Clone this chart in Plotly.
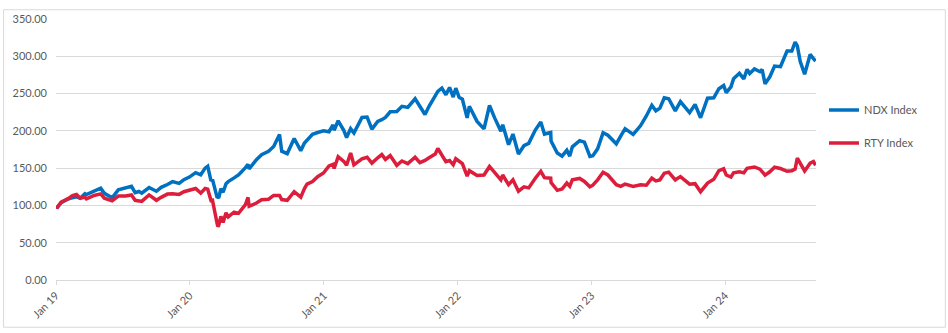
import plotly.graph_objects as go

dates = [
    "2019-01-02", "2019-01-03", "2019-01-15", "2019-02-01", "2019-02-15", "2019-02-26",
    "2019-03-08", "2019-03-21", "2019-03-25", "2019-04-15", "2019-05-03", "2019-05-13",
    "2019-06-03", "2019-06-20", "2019-07-10", "2019-07-26", "2019-08-05", "2019-08-15",
    "2019-08-23", "2019-09-12", "2019-10-02", "2019-10-15", "2019-11-01", "2019-11-15",
    "2019-12-03", "2019-12-16", "2019-12-31", "2020-01-17", "2020-01-31", "2020-02-12",
    "2020-02-19", "2020-02-28", "2020-03-03", "2020-03-12", "2020-03-16", "2020-03-18",
    "2020-03-20", "2020-03-26", "2020-04-01", "2020-04-09", "2020-04-15", "2020-05-01",
    "2020-05-13", "2020-06-01", "2020-06-08", "2020-06-11", "2020-07-01", "2020-07-15",
    "2020-08-03", "2020-08-17", "2020-09-02", "2020-09-08", "2020-09-23", "2020-10-12",
    "2020-10-30", "2020-11-09", "2020-11-16", "2020-12-01", "2020-12-15", "2020-12-31",
    "2021-01-15", "2021-01-26", "2021-01-29", "2021-02-09", "2021-02-25", "2021-03-04",
    "2021-03-15", "2021-03-24", "2021-04-15", "2021-04-29", "2021-05-12", "2021-05-28",
    "2021-06-08", "2021-06-18", "2021-07-01", "2021-07-19", "2021-08-02", "2021-08-18",
    "2021-09-07", "2021-09-20", "2021-10-04", "2021-10-15", "2021-11-01", "2021-11-08",
    "2021-11-19", "2021-11-30", "2021-12-10", "2021-12-20", "2021-12-27", "2022-01-05",
    "2022-01-14", "2022-01-27", "2022-02-02", "2022-02-23", "2022-03-14", "2022-03-29",
    "2022-04-12", "2022-04-29", "2022-05-04", "2022-05-20", "2022-06-01", "2022-06-16",
    "2022-07-01", "2022-07-14", "2022-08-01", "2022-08-16", "2022-08-26", "2022-09-12",
    "2022-09-13", "2022-09-30", "2022-10-13", "2022-10-26", "2022-11-03", "2022-11-10",
    "2022-11-30", "2022-12-13", "2022-12-28", "2023-01-05", "2023-01-18", "2023-02-02",
    "2023-02-15", "2023-03-10", "2023-03-22", "2023-04-03", "2023-04-25", "2023-05-15",
    "2023-05-31", "2023-06-15", "2023-06-26", "2023-07-07", "2023-07-19", "2023-07-31",
    "2023-08-18", "2023-09-01", "2023-09-26", "2023-10-11", "2023-10-26", "2023-11-14",
    "2023-12-01", "2023-12-15", "2023-12-28", "2024-01-04", "2024-01-17", "2024-01-24",
    "2024-02-09", "2024-02-21", "2024-03-01", "2024-03-08", "2024-03-21", "2024-04-05",
    "2024-04-11", "2024-04-19", "2024-05-02", "2024-05-15", "2024-05-31", "2024-06-18",
    "2024-07-01", "2024-07-10", "2024-07-16", "2024-07-24", "2024-08-05", "2024-08-20",
    "2024-08-29", "2024-09-04",
]

ndx_index = [
    100.0, 96.5, 103.6, 108.3, 110.4, 111.5,
    109.6, 115.7, 114.5, 119.3, 123.2, 116.2,
    110.3, 120.9, 124.0, 125.6, 117.1, 118.7,
    116.5, 124.0, 119.0, 124.3, 128.1, 131.9,
    129.5, 134.5, 138.0, 144.0, 141.1, 150.0,
    152.6, 132.8, 135.0, 117.4, 110.2, 111.5,
    109.8, 122.4, 117.6, 129.0, 131.9, 136.9,
    141.0, 150.7, 155.0, 149.0, 161.4, 168.0,
    172.7, 179.0, 195.0, 172.7, 169.5, 189.8,
    173.5, 183.7, 187.4, 195.4, 197.8, 200.0,
    198.8, 208.0, 200.8, 213.5, 200.0, 191.0,
    203.0, 197.2, 218.0, 218.6, 202.3, 212.6,
    215.0, 218.0, 225.6, 226.0, 232.9, 231.4,
    243.0, 232.9, 222.0, 232.9, 248.1, 253.0,
    257.3, 248.4, 258.2, 245.3, 257.3, 244.9,
    242.4, 217.4, 232.9, 212.7, 202.6, 234.0,
    217.4, 199.5, 208.1, 181.5, 195.7, 169.0,
    180.1, 183.2, 201.1, 212.0, 195.7, 197.8,
    186.3, 170.3, 166.0, 173.9, 166.1, 178.6,
    186.8, 184.8, 165.8, 166.7, 175.9, 197.5,
    194.1, 182.6, 192.9, 202.9, 195.2, 206.8,
    219.9, 234.3, 226.9, 230.4, 244.4, 243.1,
    226.9, 239.2, 224.4, 235.3, 217.6, 243.8,
    244.3, 256.5, 260.8, 251.2, 259.0, 270.0,
    277.2, 269.8, 282.4, 277.0, 283.0, 279.3,
    282.3, 263.0, 272.5, 286.9, 286.1, 307.1,
    307.1, 319.0, 314.0, 293.0, 276.0, 302.5,
    297.0, 293.5,
]

rty_index = [
    98.5, 96.2, 104.5, 108.4, 113.3, 114.8,
    109.7, 111.0, 108.7, 113.4, 115.5, 109.7,
    106.1, 112.6, 112.6, 114.1, 106.9, 106.1,
    105.4, 114.1, 106.9, 110.8, 115.2, 115.5,
    114.8, 118.4, 120.4, 122.7, 116.5, 122.7,
    121.8, 106.6, 106.9, 81.0, 74.9, 71.6,
    73.2, 85.2, 77.3, 90.0, 84.8, 91.0,
    89.4, 101.1, 110.8, 98.9, 103.2, 107.6,
    108.3, 113.4, 113.4, 107.9, 106.9, 118.4,
    111.2, 122.7, 128.5, 132.1, 138.6, 143.5,
    153.1, 155.2, 149.5, 165.3, 158.8, 153.8,
    170.4, 154.5, 162.5, 164.6, 156.7, 163.9,
    168.2, 161.7, 166.8, 153.8, 159.6, 156.0,
    164.6, 157.4, 160.3, 163.9, 169.0, 176.3,
    168.0, 158.8, 160.3, 154.5, 162.5, 158.8,
    156.0, 139.4, 146.6, 140.1, 140.8, 152.3,
    144.4, 134.3, 140.8, 127.8, 134.3, 119.1,
    124.9, 123.5, 136.5, 145.8, 137.2, 136.5,
    130.7, 120.2, 122.0, 130.0, 125.6, 134.3,
    136.2, 132.1, 124.9, 127.1, 134.3, 144.4,
    140.8, 127.8, 125.6, 128.5, 125.6, 127.8,
    127.1, 136.5, 132.9, 134.3, 143.0, 144.6,
    134.3, 138.6, 128.5, 129.2, 118.4, 130.0,
    135.0, 146.6, 149.1, 140.8, 138.1, 143.7,
    145.1, 143.7, 149.8, 150.2, 151.6, 148.7,
    145.8, 140.6, 145.1, 151.3, 149.5, 145.8,
    146.6, 148.7, 163.4, 157.4, 146.3, 156.7,
    158.8, 153.8,
]

series_names = ["NDX Index", "RTY Index"]
series_colors = ["#0070C0", "#DC1E3C"]
y_tick_values = [0, 50, 100, 150, 200, 250, 300, 350]
x_range = ["2019-01-01", "2024-09-05"]

W, H = 948, 333
ML, MR, MT, MB = 55, 132, 12, 53
PW = W - ML - MR
PH = H - MT - MB

fig = go.Figure()
for name, vals, col, grp in zip(series_names, [ndx_index, rty_index], series_colors, ["a", "b"]):
    fig.add_trace(go.Scatter(
        x=dates, y=vals, mode="lines", name=name, legendgroup=grp,
        line=dict(color=col, width=3.5),
    ))

def px_x(px):
    return (px - ML) / PW

def px_y(py):
    return (H - MB - py) / PH

fig.add_shape(type="rect", xref="paper", yref="paper",
              x0=px_x(2.5), x1=px_x(945.5), y0=px_y(328.5), y1=px_y(2.5),
              line=dict(color="#d9d9d9", width=1), fillcolor="rgba(0,0,0,0)", layer="below")

fig.update_layout(
    width=W, height=H,
    margin=dict(l=ML, r=MR, t=MT, b=MB, pad=0),
    paper_bgcolor="white", plot_bgcolor="white",
    font=dict(family="Lato, 'Open Sans', sans-serif", size=11, color="#595959"),
    showlegend=True,
    legend=dict(x=px_x(824), xanchor="left", y=px_y(122.5), yanchor="middle",
                traceorder="grouped", tracegroupgap=14,
                font=dict(size=11, color="#595959"), bgcolor="rgba(0,0,0,0)",
                itemwidth=30),
    xaxis=dict(
        type="date", range=x_range, tickformat="%b %y", dtick="M12", tick0="2019-01-01",
        tickangle=-45, showgrid=False, showline=True, linecolor="#d9d9d9", linewidth=1,
        ticks="outside", ticklen=4, tickcolor="#d9d9d9", zeroline=False,
        tickfont=dict(size=11, color="#595959"),
    ),
    yaxis=dict(
        range=[0, 350], tickvals=y_tick_values, tickformat=".2f",
        showgrid=True, gridcolor="#d9d9d9", gridwidth=1, zeroline=False,
        showline=False, ticks="", tickfont=dict(size=11, color="#595959"),
        ticklabelstandoff=8,
    ),
)

fig.write_html("out.html")
